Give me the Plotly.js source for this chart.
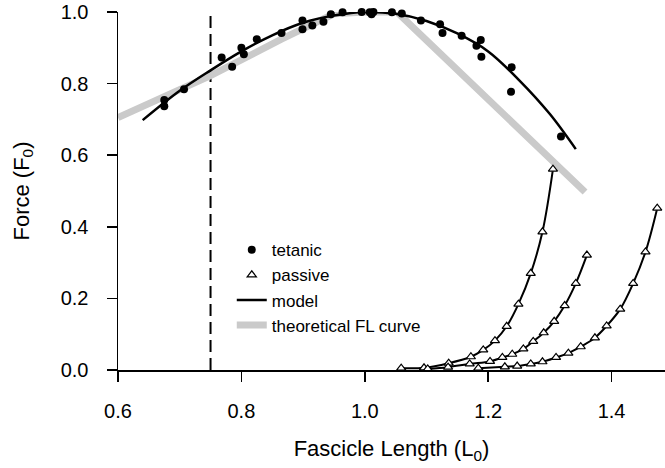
<!DOCTYPE html>
<html>
<head>
<meta charset="utf-8">
<script src="https://cdn.plot.ly/plotly-3.0.1.min.js"></script>
<style>html,body{margin:0;padding:0;background:#fff;}#chart{width:665px;height:468px;}</style>
</head>
<body>
<div id="chart"></div>
<script>
// Tetanic force measurements
const tetanicX = [0.675,0.675,0.707,0.768,0.785,0.800,0.804,0.825,0.865,0.899,0.899,0.915,0.933,0.945,0.964,0.995,1.011,1.014,1.008,1.044,1.060,1.091,1.122,1.126,1.157,1.188,1.181,1.189,1.238,1.237,1.318];
const tetanicY = [0.754,0.737,0.784,0.873,0.847,0.900,0.882,0.924,0.941,0.976,0.952,0.962,0.973,0.994,0.999,1.000,0.994,1.000,0.999,0.999,0.996,0.976,0.966,0.941,0.934,0.922,0.906,0.875,0.846,0.777,0.652];

// Model fit of tetanic FL relationship
const modelX = [0.640,0.700,0.750,0.800,0.850,0.900,0.950,1.000,1.050,1.100,1.150,1.200,1.250,1.300,1.342];
const modelY = [0.698,0.780,0.837,0.890,0.935,0.970,0.990,1.000,0.995,0.975,0.940,0.890,0.810,0.715,0.617];

// Theoretical force-length curve
const theoryX = [0.600,0.750,0.865,0.950,1.000,1.052,1.357];
const theoryY = [0.705,0.822,0.924,0.995,1.000,1.000,0.497];

// Passive force curves
const passive1X = [1.059,1.096,1.136,1.172,1.192,1.211,1.230,1.249,1.269,1.288,1.305];
const passive1Y = [0.005,0.006,0.019,0.037,0.056,0.082,0.122,0.184,0.270,0.386,0.561];
const passive2X = [1.102,1.135,1.170,1.203,1.223,1.239,1.257,1.273,1.290,1.307,1.324,1.342,1.360];
const passive2Y = [0.003,0.008,0.017,0.024,0.035,0.044,0.059,0.080,0.104,0.136,0.180,0.242,0.321];
const passive3X = [1.184,1.227,1.247,1.269,1.288,1.310,1.330,1.350,1.373,1.392,1.414,1.435,1.455,1.474];
const passive3Y = [0.005,0.009,0.011,0.017,0.023,0.035,0.047,0.065,0.090,0.123,0.170,0.242,0.330,0.452];

// Reference length (dashed line)
const refLength = [0.75, 0.75];
const refForce = [0, 1.0];

const xTicks = [0.6, 0.8, 1.0, 1.2, 1.4];
const xTickText = ['0.6','0.8','1.0','1.2','1.4'];
const yTicks = [0.0, 0.2, 0.4, 0.6, 0.8, 1.0];
const yTickText = ['0.0','0.2','0.4','0.6','0.8','1.0'];

const passiveSets = [[passive1X,passive1Y],[passive2X,passive2Y],[passive3X,passive3Y]];

const traces = [];
traces.push({x: refLength, y: refForce, mode:'lines', line:{color:'#000', width:2, dash:'12px,6px'}, showlegend:false, hoverinfo:'skip'});
traces.push({x: theoryX, y: theoryY, mode:'lines', name:'theoretical FL curve', line:{color:'#cacaca', width:7}, legendrank:4});
traces.push({x: modelX, y: modelY, mode:'lines', name:'model', line:{color:'#000', width:2.5, shape:'spline'}, legendrank:3});
passiveSets.forEach((s) => {
  traces.push({x: s[0], y: s[1], mode:'lines', line:{color:'#000', width:2, shape:'spline'}, showlegend:false, hoverinfo:'skip'});
});
passiveSets.forEach((s, i) => {
  traces.push({x: s[0], y: s[1], mode:'markers', name:'passive', legendgroup:'passive', showlegend: i===0, legendrank:2,
    marker:{symbol:'triangle-up', size:8, color:'#fff', line:{color:'#000', width:1.2}}, cliponaxis:false});
});
traces.push({x: tetanicX, y: tetanicY, mode:'markers', name:'tetanic', legendrank:1,
  marker:{symbol:'circle', size:8, color:'#000'}, cliponaxis:false});

const font = {family:'Liberation Sans, Arial, sans-serif', color:'#000'};

const layout = {
  width:665, height:468,
  margin:{l:118, r:0, t:12, b:98, pad:0},
  paper_bgcolor:'#fff', plot_bgcolor:'#fff',
  font:Object.assign({size:16}, font),
  showlegend:true,
  legend:{x:0.208, y:0.385, xanchor:'left', yanchor:'top', bgcolor:'rgba(0,0,0,0)', font:Object.assign({size:17}, font), itemwidth:30, tracegroupgap:0},
  xaxis:{range:[0.6, 1.4866], tickvals:xTicks, ticktext:xTickText, ticks:'outside', ticklen:10, tickwidth:1.5, tickcolor:'#000',
    ticklabelstandoff:12, automargin:false,
    showline:true, linecolor:'#000', linewidth:1.5, showgrid:false, zeroline:false,
    tickfont:Object.assign({size:20}, font),
    title:{text:'Fascicle Length (L<sub>0</sub>)', font:Object.assign({size:22}, font), standoff:20}},
  yaxis:{range:[0, 1.0], tickvals:yTicks, ticktext:yTickText, ticks:'outside', ticklen:10, tickwidth:1.5, tickcolor:'#000',
    ticklabelstandoff:14, automargin:false,
    showline:true, linecolor:'#000', linewidth:1.5, showgrid:false, zeroline:false,
    tickfont:Object.assign({size:20}, font),
    title:{text:'Force (F<sub>0</sub>)', font:Object.assign({size:22}, font), standoff:25}},
  shapes:[
    {type:'line', xref:'paper', yref:'paper', x0:0, x1:0, y0:-0.03, y1:0, line:{color:'#000', width:1.5}}
  ]
};

Plotly.newPlot('chart', traces, layout, {displayModeBar:false, staticPlot:true});
</script>
</body>
</html>
